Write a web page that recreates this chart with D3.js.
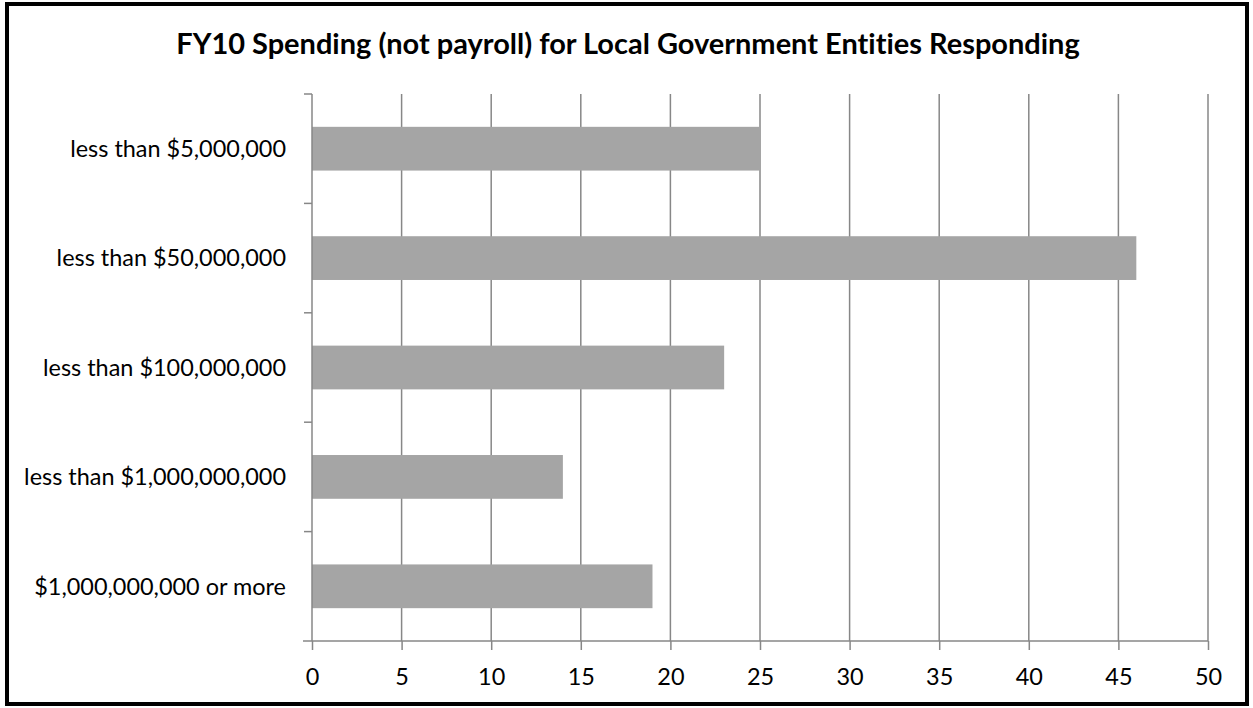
<!DOCTYPE html>
<html>
<head>
<meta charset="utf-8">
<script src="https://cdn.jsdelivr.net/npm/d3@7"></script>
<style>
  body { margin: 0; background: #fff; }
  svg text { font-family: Lato, "Open Sans", sans-serif; fill: #000; font-variant-ligatures: none; }
</style>
</head>
<body>
<svg id="chart" width="1253" height="708"></svg>
<script>
var categories = ["less than $5,000,000", "less than $50,000,000", "less than $100,000,000",
                  "less than $1,000,000,000", "$1,000,000,000 or more"];
var counts = [25, 46, 23, 14, 19];
var xTicks = [0, 5, 10, 15, 20, 25, 30, 35, 40, 45, 50];
var title = "FY10 Spending (not payroll) for Local Government Entities Responding";

var margin = {top: 94, right: 45, bottom: 67, left: 312},
    width = 1208 - margin.left,
    height = 641 - margin.top;

var svg = d3.select("#chart");

// outer frame
svg.append("rect")
    .attr("x", 7).attr("y", 4)
    .attr("width", 1240).attr("height", 700)
    .attr("fill", "#fff")
    .attr("stroke", "#000")
    .attr("stroke-width", 4);

var titleText = svg.append("text")
    .attr("x", 628)
    .attr("y", 54)
    .attr("text-anchor", "middle")
    .style("font-weight", "bold")
    .style("font-size", "24px")
    .text(title);

// fit title to the reference width
var tw = titleText.node().getComputedTextLength();
titleText.style("font-size", (24 * 904 / tw) + "px");

// work out a label size so "less than $5,000,000" is ~216px wide
var probe = svg.append("text").style("font-size", "20px").text(categories[0]);
var labelSize = 20 * 216 / probe.node().getComputedTextLength();
probe.remove();

var g = svg.append("g")
    .attr("transform", "translate(" + margin.left + "," + margin.top + ")");

var x = d3.scaleLinear()
    .domain([0, 50])
    .range([0, width]);

var y = d3.scaleBand()
    .domain(categories)
    .range([0, height])
    .paddingInner(0.6)
    .paddingOuter(0.3);

// vertical gridlines
g.selectAll(".grid")
    .data(xTicks.slice(1))
  .enter().append("line")
    .attr("class", "grid")
    .attr("x1", function(d) { return x(d); })
    .attr("x2", function(d) { return x(d); })
    .attr("y1", 0)
    .attr("y2", height)
    .attr("stroke", "#878787")
    .attr("stroke-width", 1.5);

g.selectAll(".bar")
    .data(counts)
  .enter().append("rect")
    .attr("class", "bar")
    .attr("x", 0)
    .attr("y", function(d, i) { return y(categories[i]); })
    .attr("width", function(d) { return x(d); })
    .attr("height", y.bandwidth())
    .attr("fill", "#a5a5a5");

// x axis
var xAxis = d3.axisBottom(x)
    .tickValues(xTicks)
    .tickSize(9)
    .tickPadding(18)
    .tickSizeOuter(0);

var xg = g.append("g")
    .attr("transform", "translate(0," + height + ")")
    .call(xAxis);
xg.select(".domain").attr("stroke", "#878787").attr("stroke-width", 1.5)
    .attr("d", "M-9,0H" + width);
xg.selectAll(".tick line").attr("stroke", "#878787").attr("stroke-width", 1.5);
xg.selectAll(".tick text").style("font-size", labelSize + "px").attr("fill", "#000");

// y axis: ticks sit between categories
var step = height / categories.length;
var yg = g.append("g");
yg.append("line")
    .attr("x1", 0).attr("x2", 0)
    .attr("y1", 0).attr("y2", height)
    .attr("stroke", "#878787")
    .attr("stroke-width", 1.5);
yg.selectAll(".ytick")
    .data(d3.range(categories.length))
  .enter().append("line")
    .attr("class", "ytick")
    .attr("x1", -8).attr("x2", 0)
    .attr("y1", function(d) { return d * step; })
    .attr("y2", function(d) { return d * step; })
    .attr("stroke", "#878787")
    .attr("stroke-width", 1.5);
yg.selectAll(".ylabel")
    .data(categories)
  .enter().append("text")
    .attr("class", "ylabel")
    .attr("x", -26)
    .attr("y", function(d) { return y(d) + y.bandwidth() / 2; })
    .attr("dy", "0.35em")
    .attr("text-anchor", "end")
    .style("font-size", labelSize + "px")
    .text(function(d) { return d; });
</script>
</body>
</html>
